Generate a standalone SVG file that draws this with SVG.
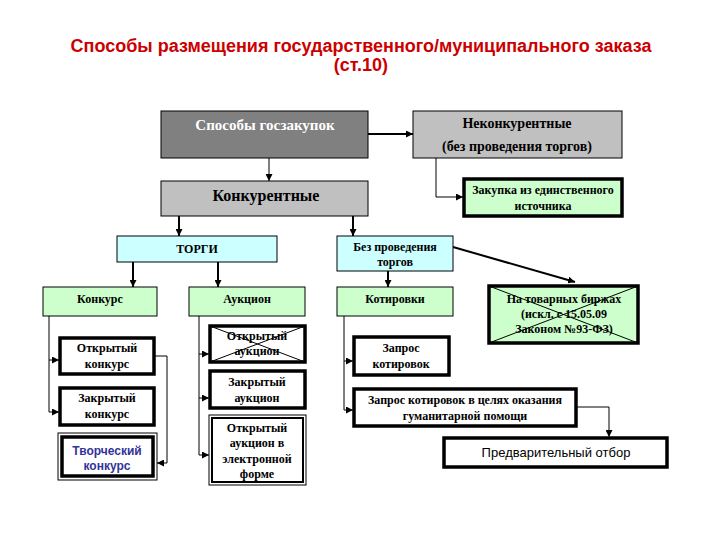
<svg xmlns="http://www.w3.org/2000/svg" width="720" height="540" viewBox="0 0 720 540">
<style>
.t{font-family:"Liberation Serif","Times New Roman",serif;font-weight:bold;font-size:12px;fill:#000;text-anchor:middle}
.ttl{font-family:"Liberation Sans",Arial,sans-serif;font-weight:bold;font-size:18px;fill:#cc0000;text-anchor:middle}
.grey{fill:#c0c0c0;stroke:#000;stroke-width:1}
.dark{fill:#808080;stroke:#000;stroke-width:1}
.cyan{fill:#ccffff;stroke:#000;stroke-width:1}
.green{fill:#ccffcc;stroke:#000;stroke-width:1}
.gthick{fill:#ccffcc;stroke:#000;stroke-width:3.5}
.wthick{fill:#fff;stroke:#000;stroke-width:3.5}
.thin{fill:none;stroke:#000;stroke-width:1}
.c1{fill:none;stroke:#000;stroke-width:1;marker-end:url(#ah)}
.c2{fill:none;stroke:#000;stroke-width:2;marker-end:url(#ah)}
.sans{font-family:"Liberation Sans",Arial,sans-serif;text-anchor:middle}
</style>
<defs>
<marker id="ah" viewBox="0 0 10 10" refX="10" refY="5" markerWidth="7" markerHeight="7" markerUnits="userSpaceOnUse" orient="auto">
<path d="M0,0 L10,5 L0,10 z" fill="#000"/>
</marker>
</defs>
<rect width="720" height="540" fill="#fff"/>
<g id="title">
<text class="ttl" x="361" y="52">Способы размещения государственного/муниципального заказа</text>
<text class="ttl" x="361" y="71">(ст.10)</text>
</g>
<g id="connectors">
<path class="c2" d="M368,134 H413"/>
<path class="c1" d="M269,158 V181"/>
<path class="c1" d="M436,158 V197 H463"/>
<path class="c2" d="M179,216 V236"/>
<path class="c2" d="M353,216 V236"/>
<path class="c2" d="M133,262 V287"/>
<path class="c2" d="M218,262 V287"/>
<path class="c2" d="M388,271 V287"/>
<path class="c2" d="M453,247 L575,282"/>
<path class="thin" d="M49,316 V412"/>
<path class="c1" d="M49,360 H59"/>
<path class="c1" d="M49,412 H59"/>
<path class="c1" d="M154,356 H167 V463 H157"/>
<path class="thin" d="M199,316 V455"/>
<path class="c1" d="M199,354 H209"/>
<path class="c1" d="M199,398 H209"/>
<path class="c1" d="M199,455 H209"/>
<path class="thin" d="M344,316 V410"/>
<path class="c1" d="M344,361 H353"/>
<path class="c1" d="M344,410 H353"/>
<path class="c1" d="M576,407 H609 V437"/>
</g>
<g id="sposoby">
<rect class="dark" x="161" y="111" width="207" height="47"/>
<text class="t" x="265" y="130" style="fill:#fff;font-size:15px">Способы госзакупок</text>
</g>
<g id="nekonk">
<rect class="grey" x="413" y="111" width="209" height="47"/>
<text class="t" x="517" y="128" style="font-size:14px">Неконкурентные</text>
<text class="t" x="517" y="151" style="font-size:14px">(без проведения торгов)</text>
</g>
<g id="konk">
<rect class="grey" x="161" y="181" width="207" height="35"/>
<text class="t" x="266" y="201" style="font-size:16px">Конкурентные</text>
</g>
<g id="edinst">
<rect class="gthick" x="464" y="179" width="158" height="37"/>
<text class="t" x="543" y="194" style="font-size:12px">Закупка из единственного</text>
<text class="t" x="543" y="210" style="font-size:12px">источника</text>
</g>
<g id="torgi">
<rect class="cyan" x="117" y="236" width="160" height="26"/>
<text class="t" x="197" y="253">ТОРГИ</text>
</g>
<g id="bez">
<rect class="cyan" x="337" y="236" width="116" height="35"/>
<text class="t" x="395" y="251">Без проведения</text>
<text class="t" x="395" y="266">торгов</text>
</g>
<g id="konkurs">
<rect class="green" x="43" y="287" width="114" height="29"/>
<text class="t" x="100" y="303">Конкурс</text>
</g>
<g id="aukcion">
<rect class="green" x="189" y="287" width="116" height="29"/>
<text class="t" x="247" y="303">Аукцион</text>
</g>
<g id="kotirovki">
<rect class="green" x="337" y="287" width="116" height="29"/>
<text class="t" x="395" y="303">Котировки</text>
</g>
<g id="birzhi">
<rect class="gthick" x="489" y="286" width="149" height="57"/>
<path class="thin" d="M489,286 L638,343 M638,286 L489,343"/>
<text class="t" x="564" y="303">На товарных биржах</text>
<text class="t" x="564" y="318">(искл. с 15.05.09</text>
<text class="t" x="564" y="333">Законом №93-ФЗ)</text>
</g>
<g id="otkr-konkurs">
<rect class="wthick" x="60" y="338" width="94" height="36"/>
<text class="t" x="107" y="352">Открытый</text>
<text class="t" x="107" y="368">конкурс</text>
</g>
<g id="zakr-konkurs">
<rect class="wthick" x="60" y="388" width="94" height="37"/>
<text class="t" x="107" y="402">Закрытый</text>
<text class="t" x="107" y="418">конкурс</text>
</g>
<g id="tvorch">
<rect x="58" y="433" width="99" height="47" fill="#fff" stroke="#000" stroke-width="1"/>
<rect x="62" y="437" width="91" height="39" fill="#fff" stroke="#000" stroke-width="3.5"/>
<text class="sans" x="107" y="455" style="font-size:12px;font-weight:bold;fill:#333399">Творческий</text>
<text class="sans" x="107" y="470" style="font-size:12px;font-weight:bold;fill:#333399">конкурс</text>
</g>
<g id="otkr-auk">
<rect class="wthick" x="210" y="326" width="95" height="36"/>
<path class="thin" d="M210,326 L305,362 M305,326 L210,362"/>
<text class="t" x="257" y="340">Открытый</text>
<text class="t" x="257" y="355">аукцион</text>
</g>
<g id="zakr-auk">
<rect class="wthick" x="210" y="371" width="95" height="37"/>
<text class="t" x="257" y="386">Закрытый</text>
<text class="t" x="257" y="402">аукцион</text>
</g>
<g id="el-auk">
<rect x="209" y="415" width="97" height="70" fill="#fff" stroke="#000" stroke-width="1"/>
<rect x="212" y="418" width="91" height="64" fill="#fff" stroke="#000" stroke-width="2"/>
<text class="t" x="257" y="432">Открытый</text>
<text class="t" x="257" y="447">аукцион в</text>
<text class="t" x="257" y="463">электронной</text>
<text class="t" x="257" y="478">форме</text>
</g>
<g id="zapros">
<rect class="wthick" x="354" y="337" width="95" height="38"/>
<text class="t" x="401" y="352">Запрос</text>
<text class="t" x="401" y="368">котировок</text>
</g>
<g id="zapros-gum">
<rect class="wthick" x="354" y="389" width="222" height="37"/>
<text class="t" x="465" y="404">Запрос котировок в целях оказания</text>
<text class="t" x="465" y="420">гуманитарной помощи</text>
</g>
<g id="predv">
<rect class="wthick" x="444" y="438" width="223" height="29"/>
<text class="sans" x="556" y="457" style="font-size:13px;fill:#000">Предварительный отбор</text>
</g>
</svg>
